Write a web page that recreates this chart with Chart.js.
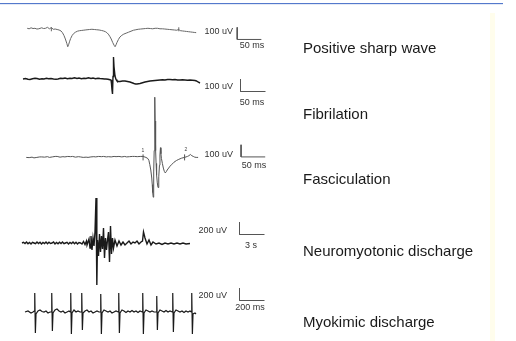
<!DOCTYPE html>
<html>
<head>
<meta charset="utf-8">
<script src="https://cdn.jsdelivr.net/npm/chart.js@4/dist/chart.umd.min.js"></script>
<style>
  body { margin: 0; background: #fff; }
  #wrap { position: relative; width: 516px; height: 341px; overflow: hidden; font-family: "Liberation Sans", Arial, sans-serif; }
  #wrap canvas { position: absolute; left: 0; top: 0; }
  .txt { position: absolute; white-space: nowrap; line-height: 1; transform: translateY(-50%); }
  .cat { font-size: 15px; color: #1a1a1a; left: 303px; }
  .unit { font-size: 9px; color: #333; }
  .digit { font-size: 5px; color: #444; }
</style>
</head>
<body>
<div id="wrap">
  <div style="position:absolute;left:0;top:3px;width:503px;height:1px;background:#5479cc"></div>
  <div style="position:absolute;left:0;top:4px;width:503px;height:1px;background:#e4eaf6"></div>
  <div style="position:absolute;left:490px;top:13px;width:5px;height:328px;background:#fffdec"></div>
</div>
<script>
// category names, scale bar sizes and their labels
var categories = ['Positive sharp wave', 'Fibrilation', 'Fasciculation', 'Neuromyotonic discharge', 'Myokimic discharge'];
var barVolts = [100, 100, 100, 200, 200];        // uV
var barTimes = [50, 50, 50, 3, 200];             // ms, ms, ms, s, ms
var voltLabels = ['100 uV', '100 uV', '100 uV', '200 uV', '200 uV'];
var timeLabels = ['50 ms', '50 ms', '50 ms', '3 s', '200 ms'];

// traces: [time, uV]
var sharpWave = [[0,8],[4,4],[8,12],[12,6],[16,8],[20,2],[24,4],[30,12],[34,6],[38,8],[42,16],[46,4],[50,14],[54,0],[58,2],[62,-2],[66,-6],[70,-14],[73,-28],[76,-50],[79,-80],[82,-116],[84,-144],[86,-124],[88,-98],[90,-76],[93,-52],[96,-36],[100,-24],[104,-16],[108,-12],[112,-10],[116,-8],[120,-6],[124,-4],[129,-2],[134,0],[139,-2],[144,-4],[149,-6],[154,-10],[158,-14],[162,-20],[165,-28],[168,-40],[171,-58],[174,-80],[177,-108],[180,-132],[182,-144],[184,-128],[186,-108],[189,-84],[192,-64],[196,-50],[200,-40],[205,-32],[210,-24],[215,-16],[220,-8],[225,-4],[230,0],[235,2],[240,4],[245,6],[250,8],[255,6],[260,4],[265,8],[270,8],[275,4],[280,4],[285,2],[290,0],[295,-2],[300,-4],[305,-6],[310,-8],[314,0],[316,-10],[318,-12],[322,-14],[326,-16],[330,-18],[334,-20],[338,-22],[342,-24],[346,-26],[350,-28]];
var sharpWaveMarks = [50, 314];

var fibrillation = [[0,0],[5,4],[10,-2],[14,-4],[19,2],[24,6],[28,4],[33,-2],[38,2],[42,0],[47,6],[51,2],[56,4],[61,0],[66,-2],[70,0],[75,6],[80,4],[84,8],[89,2],[94,6],[98,4],[103,10],[108,4],[112,8],[117,2],[122,6],[126,4],[131,10],[136,4],[140,8],[145,2],[150,6],[154,4],[159,2],[163,0],[166,0],[170,-2],[172,-4],[174,-6],[176,-8],[177,-40],[178,-88],[179,-120],[180,20],[181,176],[182,100],[184,24],[186,-4],[188,-16],[191,-20],[194,-20],[199,-16],[204,-16],[209,-20],[214,-24],[218,-30],[222,-36],[225,-40],[228,-40],[231,-38],[234,-36],[239,-30],[244,-24],[249,-20],[254,-16],[259,-14],[264,-12],[269,-10],[274,-8],[279,-6],[284,-8],[289,-4],[294,-4],[299,-6],[304,-4],[309,-8],[314,-8],[319,-6],[324,-8],[329,-10],[334,-8],[339,-10],[344,-12],[347,-16],[350,-24],[354,-32]];

var fasciculation = [[0,0],[6,-2],[12,2],[16,-4],[22,0],[28,4],[32,4],[38,2],[44,6],[48,0],[54,4],[60,8],[64,8],[70,2],[76,6],[80,4],[86,8],[92,6],[96,8],[102,2],[108,6],[112,4],[118,0],[124,2],[128,0],[134,4],[140,6],[144,4],[150,8],[156,6],[160,8],[166,4],[170,6],[176,4],[182,8],[186,6],[192,8],[198,4],[204,8],[208,4],[214,6],[220,8],[224,8],[230,6],[236,8],[242,8],[248,0],[252,-10],[254,-24],[256,-60],[258,-104],[260,-170],[261,-224],[262,-290],[263,-328],[264,-120],[265,56],[266,400],[266.5,496],[267,300],[268,56],[269,-50],[270,-144],[271.5,-210],[273,-248],[274.5,-160],[276,-64],[277,20],[278,80],[279,30],[280,-8],[282,-50],[284,-88],[286,-115],[288,-128],[290,-118],[292,-104],[295,-88],[298,-72],[302,-56],[306,-40],[311,-26],[316,-16],[322,-6],[328,0],[331,4],[334,8],[337,14],[340,24],[343,14],[346,8],[349,2],[352,0],[356,0]];
var fasciculationMarks = [242, 328];

var neuromyotonic = [[0,0],[0.18,12],[0.36,-8],[0.54,16],[0.72,-12],[0.9,8],[1.08,-16],[1.26,12],[1.44,0],[1.62,-12],[1.8,16],[1.98,-8],[2.16,12],[2.34,-16],[2.52,8],[2.7,-8],[2.88,16],[3.06,-12],[3.24,12],[3.42,-8],[3.6,0],[3.78,16],[3.96,-16],[4.14,8],[4.32,-12],[4.5,12],[4.68,-8],[4.86,16],[5.04,-12],[5.22,0],[5.4,12],[5.58,-16],[5.76,8],[5.94,-8],[6.12,16],[6.3,-12],[6.48,12],[6.66,-16],[6.84,8],[7.02,0],[7.2,-16],[7.38,24],[7.56,-24],[7.74,32],[7.8,-32],[8.04,64],[8.16,-80],[8.28,112],[8.4,-112],[8.52,80],[8.64,-48],[8.76,176],[8.88,720],[8.98,-672],[9.06,48],[9.18,-208],[9.3,144],[9.42,-144],[9.54,112],[9.66,-96],[9.78,240],[9.9,-240],[10.02,80],[10.14,-112],[10.26,48],[10.38,176],[10.5,-304],[10.62,272],[10.74,-176],[10.86,80],[10.98,-80],[11.16,48],[11.4,-48],[11.64,32],[11.88,-32],[12.12,16],[12.36,-32],[12.6,0],[12.84,32],[13.08,-16],[13.32,16],[13.56,0],[13.8,32],[14.04,-16],[14.28,16],[14.46,32],[14.58,176],[14.76,80],[15.0,-16],[15.24,48],[15.48,-32],[15.72,16],[16.08,-16],[16.44,0],[16.8,-24],[17.16,0],[17.52,-16],[17.88,0],[18.24,-16],[18.6,0],[18.96,-16],[19.32,0],[19.68,-16],[20.16,-8]];

var myokimic = [[0,0],[24,16],[48,-16],[64,0],[74,16],[78,304],[83,-336],[88,-32],[104,16],[120,32],[136,8],[152,0],[168,16],[184,-16],[200,0],[210,0],[214,304],[219,-304],[224,-16],[240,32],[256,48],[272,16],[288,0],[304,16],[320,-16],[336,0],[352,16],[362,0],[366,304],[371,-352],[376,-16],[392,32],[408,0],[424,16],[440,0],[450,0],[454,304],[459,-288],[464,-16],[480,16],[496,32],[512,0],[528,16],[544,-16],[560,0],[576,16],[592,0],[602,0],[606,288],[611,-352],[616,-16],[632,32],[648,16],[664,0],[680,16],[696,-16],[712,0],[728,16],[746,0],[750,304],[755,-336],[760,-16],[776,32],[792,16],[808,-8],[824,16],[840,0],[856,24],[872,0],[888,16],[904,-8],[920,16],[938,0],[942,304],[947,-352],[952,-16],[968,32],[984,16],[1000,0],[1016,16],[1032,0],[1050,0],[1054,256],[1059,-288],[1064,-16],[1080,32],[1096,16],[1112,0],[1128,24],[1144,0],[1160,16],[1178,0],[1182,304],[1187,-320],[1192,-16],[1208,32],[1224,16],[1240,0],[1256,16],[1272,-8],[1288,16],[1304,0],[1320,16],[1330,0],[1334,304],[1339,-352],[1344,-32],[1360,-16],[1368,-32]];

var traces = [sharpWave, fibrillation, fasciculation, neuromyotonic, myokimic];
var marks = [sharpWaveMarks, [], fasciculationMarks, [], []];

// layout per row: trace origin (px), units per px, scale bar corner, label spots
var rows = [
    { x0: 23, y0: 25,  tPx: 2,    vPx: 8,  color: '#666', width: 1,   bar: [240.5, 35.5],  vl: [233, 31],  tl: [252, 45],  catY: 47,  markR: 2 },
    { x0: 23, y0: 79,  tPx: 2,    vPx: 8,  color: '#1a1a1a', width: 1.4, bar: [240.5, 91.5],  vl: [233, 86],  tl: [252, 102], catY: 113 },
    { x0: 22, y0: 157, tPx: 2,    vPx: 8,  color: '#555', width: 1,   bar: [244.5, 156.5], vl: [233, 154], tl: [254, 165], catY: 178, markR: 3 },
    { x0: 22, y0: 243, tPx: 0.12, vPx: 16, color: '#1a1a1a', width: 1.4, bar: [239.5, 234.5], vl: [227, 230], tl: [251, 245], catY: 250 },
    { x0: 25, y0: 312, tPx: 8,    vPx: 16, color: '#1a1a1a', width: 1.2, bar: [239.5, 300.5], vl: [227, 295], tl: [250, 307], catY: 321 }
];

var W = 290, H = 341;
var wrap = document.getElementById('wrap');

function addText(text, cls, left, top, alignRight, center) {
    var s = document.createElement('span');
    s.className = 'txt ' + cls;
    s.textContent = text;
    s.style.top = top + 'px';
    if (alignRight) {
        s.style.right = (516 - left) + 'px';
    } else if (center) {
        s.style.left = left + 'px';
        s.style.transform = 'translate(-50%, -50%)';
    } else {
        s.style.left = left + 'px';
    }
    wrap.appendChild(s);
}

rows.forEach(function(row, i) {
    var canvas = document.createElement('canvas');
    canvas.width = W;
    canvas.height = H;
    wrap.appendChild(canvas);

    var bx = (row.bar[0] - row.x0) * row.tPx;
    var by = (row.y0 - row.bar[1]) * row.vPx;

    var datasets = [{
        data: traces[i].map(function(p) { return { x: p[0], y: p[1] }; }),
        borderColor: row.color,
        borderWidth: row.width,
        pointRadius: 0,
        tension: 0,
        clip: false
    }, {
        data: [{ x: bx, y: by + barVolts[i] }, { x: bx, y: by }, { x: bx + barTimes[i], y: by }],
        borderColor: '#555',
        borderWidth: 1,
        pointRadius: 0,
        clip: false
    }];
    if (marks[i].length) {
        datasets.push({
            data: marks[i].map(function(t) { return { x: t, y: 0 }; }),
            showLine: false,
            pointStyle: 'line',
            rotation: 90,
            pointRadius: row.markR,
            borderColor: row.color,
            borderWidth: 1
        });
    }

    new Chart(canvas, {
        type: 'line',
        data: { datasets: datasets },
        options: {
            responsive: false,
            animation: false,
            layout: { padding: 0 },
            plugins: { legend: { display: false }, tooltip: { enabled: false } },
            scales: {
                x: { type: 'linear', display: false, min: -row.x0 * row.tPx, max: (W - row.x0) * row.tPx },
                y: { type: 'linear', display: false, min: -(H - row.y0) * row.vPx, max: row.y0 * row.vPx }
            }
        }
    });

    addText(voltLabels[i], 'unit', row.vl[0], row.vl[1], true);
    addText(timeLabels[i], 'unit', row.tl[0], row.tl[1], false, true);
    addText(categories[i], 'cat', 303, row.catY);
});

// small marker digits on the fasciculation trace
addText('1', 'digit', 143, 150, false, true);
addText('2', 'digit', 186, 149, false, true);
</script>
</body>
</html>
